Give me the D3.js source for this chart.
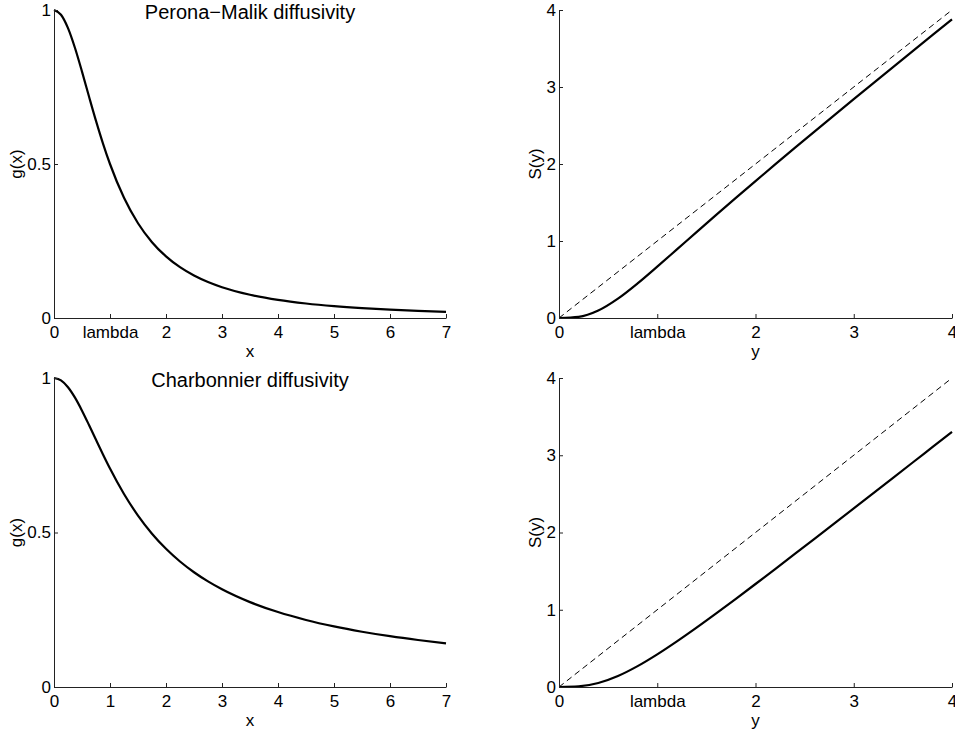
<!DOCTYPE html>
<html>
<head>
<meta charset="utf-8">
<script src="https://cdn.jsdelivr.net/npm/d3@7"></script>
<style>
  html, body { margin: 0; padding: 0; background: #fff; }
  svg text { font-family: "Liberation Sans", Helvetica, Arial, sans-serif; fill: #000; }
</style>
</head>
<body>
<svg id="chart" width="955" height="734"></svg>
<script>
// ---- data ----
const gX = [0, 0.125, 0.25, 0.375, 0.5, 0.625, 0.75, 0.875, 1, 1.25, 1.5, 1.75, 2, 2.25, 2.5, 2.75, 3, 3.5, 4, 4.5, 5, 5.5, 6, 6.5, 7];
const gPeronaMalik = [1, 0.9846, 0.9412, 0.8767, 0.8, 0.7191, 0.64, 0.5664, 0.5, 0.3902, 0.3077, 0.2462, 0.2, 0.1649, 0.1379, 0.1168, 0.1, 0.0755, 0.0588, 0.0471, 0.0385, 0.032, 0.027, 0.0231, 0.02];
const gCharbonnier = [1, 0.9923, 0.9701, 0.9363, 0.8944, 0.848, 0.8, 0.7526, 0.7071, 0.6247, 0.5547, 0.4961, 0.4472, 0.4061, 0.3714, 0.3417, 0.3162, 0.2747, 0.2425, 0.2169, 0.1961, 0.1789, 0.1644, 0.1521, 0.1414];
const sY = [0, 0.2, 0.4, 0.6, 0.8, 1.0, 1.2, 1.4, 1.6, 1.8, 2.0, 2.2, 2.4, 2.6, 2.8, 3.0, 3.2, 3.4, 3.6, 3.8, 4.0];
const sPeronaMalik = [0, 0.0148, 0.097, 0.2512, 0.4491, 0.6667, 0.8907, 1.1154, 1.3386, 1.5594, 1.7778, 1.994, 2.2083, 2.4209, 2.6321, 2.8421, 3.051, 3.259, 3.4663, 3.6728, 3.8788];
const sCharbonnier = [0, 0.0075, 0.0518, 0.1425, 0.2702, 0.4226, 0.5908, 0.7688, 0.9533, 1.1419, 1.3333, 1.5268, 1.7218, 1.9177, 2.1144, 2.3117, 2.5096, 2.7077, 2.9061, 3.1049, 3.3036];
const identityY = [0, 4];
const identityS = [0, 4];

const gXTicks = [0, 1, 2, 3, 4, 5, 6, 7];
const gXTickLabelsTop = ["0", "lambda", "2", "3", "4", "5", "6", "7"];
const gXTickLabelsBottom = ["0", "1", "2", "3", "4", "5", "6", "7"];
const gYTicks = [0, 0.5, 1];
const gYTickLabels = ["0", "0.5", "1"];
const sXTicks = [0, 1, 2, 3, 4];
const sXTickLabels = ["0", "lambda", "2", "3", "4"];
const sYTicks = [0, 1, 2, 3, 4];
const sYTickLabels = ["0", "1", "2", "3", "4"];

const titles = ["Perona\u2212Malik diffusivity", "Charbonnier diffusivity"];

// ---- layout ----
const svg = d3.select("#chart");
const panels = [
  { x0: 54, x1: 446, y0: 318, y1: 10, xd: [0, 7], yd: [0, 1], xt: gXTicks, xl: gXTickLabelsTop, yt: gYTicks, yl: gYTickLabels,
    xs: gX, ys: gPeronaMalik, dashed: false, xlab: "x", ylab: "g(x)", yoff: 32, title: titles[0] },
  { x0: 559, x1: 952, y0: 318, y1: 10, xd: [0, 4], yd: [0, 4], xt: sXTicks, xl: sXTickLabels, yt: sYTicks, yl: sYTickLabels,
    xs: sY, ys: sPeronaMalik, dashed: true, xlab: "y", ylab: "S(y)", yoff: 18, title: null },
  { x0: 54, x1: 446, y0: 687, y1: 378, xd: [0, 7], yd: [0, 1], xt: gXTicks, xl: gXTickLabelsBottom, yt: gYTicks, yl: gYTickLabels,
    xs: gX, ys: gCharbonnier, dashed: false, xlab: "x", ylab: "g(x)", yoff: 32, title: titles[1] },
  { x0: 559, x1: 952, y0: 687, y1: 378, xd: [0, 4], yd: [0, 4], xt: sXTicks, xl: sXTickLabels, yt: sYTicks, yl: sYTickLabels,
    xs: sY, ys: sCharbonnier, dashed: true, xlab: "y", ylab: "S(y)", yoff: 18, title: null }
];

const FS = 17;

panels.forEach(p => {
  const x = d3.scaleLinear().domain(p.xd).range([p.x0, p.x1]);
  const y = d3.scaleLinear().domain(p.yd).range([p.y0, p.y1]);
  const g = svg.append("g");

  // dashed identity
  if (p.dashed) {
    g.append("path")
      .datum(identityY.map((v, i) => [v, identityS[i]]))
      .attr("fill", "none").attr("stroke", "#000").attr("stroke-width", 1)
      .attr("stroke-dasharray", "6,4")
      .attr("d", d3.line().x(d => x(d[0])).y(d => y(d[1])));
  }

  // curve
  g.append("path")
    .datum(p.xs.map((v, i) => [v, p.ys[i]]))
    .attr("fill", "none").attr("stroke", "#000").attr("stroke-width", 2.2)
    .attr("stroke-linejoin", "round")
    .attr("d", d3.line().curve(d3.curveMonotoneX).x(d => x(d[0])).y(d => y(d[1])));

  // axes
  const xAxis = d3.axisBottom(x).tickValues(p.xt).tickFormat((d, i) => p.xl[i])
    .tickSizeInner(-4).tickSizeOuter(0).tickPadding(8);
  const gx = g.append("g").attr("transform", `translate(0,${p.y0})`).call(xAxis);
  const yAxis = d3.axisLeft(y).tickValues(p.yt).tickFormat((d, i) => p.yl[i])
    .tickSizeInner(-4).tickSizeOuter(0).tickPadding(3);
  const gy = g.append("g").attr("transform", `translate(${p.x0},0)`).call(yAxis);
  [gx, gy].forEach(a => {
    a.selectAll("path.domain").attr("stroke", "#222").attr("stroke-width", 1);
    a.selectAll(".tick line").attr("stroke", "#222").attr("stroke-width", 1);
    a.selectAll(".tick text").attr("font-size", FS).attr("fill", "#000")
      .style("font-family", '"Liberation Sans", Helvetica, Arial, sans-serif');
  });

  // axis labels
  g.append("text").attr("x", (p.x0 + p.x1) / 2).attr("y", p.y0 + 39)
    .attr("text-anchor", "middle").attr("font-size", FS).text(p.xlab);
  g.append("text")
    .attr("transform", `translate(${p.x0 - p.yoff},${(p.y0 + p.y1) / 2}) rotate(-90)`)
    .attr("text-anchor", "middle").attr("font-size", FS).text(p.ylab);

  if (p.title) {
    g.append("text").attr("x", (p.x0 + p.x1) / 2).attr("y", p.y1 + 9)
      .attr("text-anchor", "middle").attr("font-size", 20).text(p.title);
  }
});
</script>
</body>
</html>
